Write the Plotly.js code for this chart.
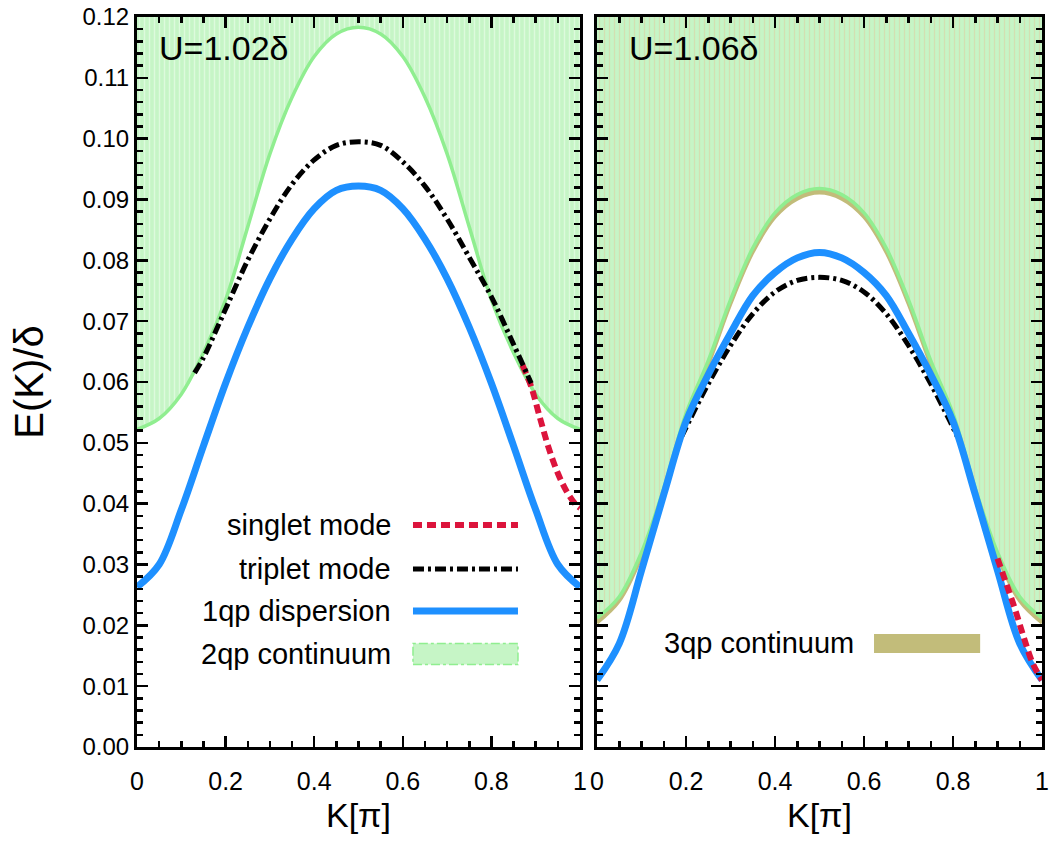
<!DOCTYPE html>
<html><head><meta charset="utf-8">
<script src="https://cdn.plot.ly/plotly-3.0.1.min.js"></script>
<style>html,body{margin:0;padding:0;background:#fff}#chart{width:1051px;height:846px}</style>
</head><body><div id="chart"></div>
<script>
// ---------- data ----------
const K_GRID = [0,0.05,0.1,0.15,0.2,0.25,0.3,0.35,0.4,0.45,0.5,0.55,0.6,0.65,0.7,0.75,0.8,0.85,0.9,0.95,1.0];

// Panel 1: U = 1.02 delta
const DISP_1QP_L = [0.0263,0.0300,0.0390,0.0495,0.0598,0.0690,0.0770,0.0835,0.0885,0.0915,0.0922,0.0915,0.0885,0.0835,0.0770,0.0690,0.0598,0.0495,0.0390,0.0300,0.0263];
const EDGE_2QP_L = [0.0522,0.0540,0.0580,0.0648,0.0735,0.0855,0.0975,0.1068,0.1135,0.1172,0.1183,0.1172,0.1135,0.1068,0.0975,0.0855,0.0735,0.0648,0.0580,0.0540,0.0522];
const TRIP_K_L = [0.13,0.15,0.2,0.25,0.3,0.35,0.4,0.45,0.5,0.55,0.6,0.65,0.7,0.75,0.8,0.85,0.89];
const TRIP_L   = [0.0615,0.0640,0.0720,0.0800,0.0868,0.0925,0.0965,0.0989,0.0995,0.0989,0.0962,0.0922,0.0868,0.0805,0.0740,0.0662,0.0598];
const SING_K_L = [0.87,0.89,0.91,0.93,0.95,0.97,0.99,1.0];
const SING_L   = [0.0628,0.0592,0.0540,0.0490,0.0450,0.0420,0.0399,0.0393];

// Panel 2: U = 1.06 delta
const DISP_1QP_R = [0.0110,0.0170,0.0290,0.0415,0.0535,0.0612,0.0680,0.0742,0.0780,0.0804,0.0813,0.0804,0.0780,0.0742,0.0680,0.0612,0.0535,0.0415,0.0290,0.0170,0.0110];
const EDGE_2QP_R = [0.0212,0.0247,0.0320,0.0425,0.0548,0.0635,0.0735,0.0820,0.0878,0.0908,0.0918,0.0908,0.0878,0.0820,0.0735,0.0635,0.0548,0.0425,0.0320,0.0247,0.0212];
const EDGE_3QP_R = [0.0204,0.0240,0.0313,0.0418,0.0541,0.0628,0.0728,0.0813,0.0871,0.0901,0.0911,0.0901,0.0871,0.0813,0.0728,0.0628,0.0541,0.0418,0.0313,0.0240,0.0204];
const TRIP_K_R = [0.19,0.21,0.25,0.3,0.35,0.4,0.45,0.5,0.55,0.6,0.65,0.7,0.75,0.79,0.81];
const TRIP_R   = [0.0510,0.0540,0.0597,0.0660,0.0712,0.0748,0.0767,0.0772,0.0767,0.0748,0.0712,0.0660,0.0597,0.0540,0.0510];
const SING_K_R = [0.90,0.92,0.94,0.96,0.98,1.0];
const SING_R   = [0.0310,0.0268,0.0225,0.0178,0.0136,0.0110];

// axis / labels
const Y_RANGE = [0, 0.12];
const X_TICKS = [0,0.2,0.4,0.6,0.8,1];
const X_TICKTEXT = ['0','0.2','0.4','0.6','0.8','1'];
const PANEL_LABELS = ['U=1.02δ','U=1.06δ'];
const LEGEND_L = ['singlet mode','triplet mode','1qp dispersion','2qp continuum'];
const LEGEND_R = ['3qp continuum'];

// ---------- styles ----------
const FONT = 'Liberation Sans, Arial, Helvetica, sans-serif';
const C_BLUE = '#1e90ff', C_RED = '#dc143c', C_BLACK = '#000000';
const C_GREEN_FILL = '#c6f5c6', C_GREEN_LINE = '#90ee90', C_TAN = '#c2bc7a';
const DASH_SING = '9px,5px', DASH_TRIP = '11px,4px,3px,4px';

function topOf(K){ return K.map(() => Y_RANGE[1]); }

function continuum(K, edge, xa, ya, fill, line, pattern){
  return [
    {x:K, y:topOf(K), xaxis:xa, yaxis:ya, mode:'lines', line:{width:0, color:fill}, hoverinfo:'skip', showlegend:false},
    {x:K, y:edge, xaxis:xa, yaxis:ya, mode:'lines', line:{width:3.5, color:line, shape:'spline'},
     fill:'tonexty', fillcolor:fill, fillpattern:pattern, showlegend:false}
  ];
}
function curve(K, v, xa, ya, color, width, dash){
  return {x:K, y:v, xaxis:xa, yaxis:ya, mode:'lines', line:{color:color, width:width, dash:dash, shape:'spline'}, showlegend:false};
}

const patL = {shape:'|', bgcolor:C_GREEN_FILL, fgcolor:'#ddfadd', size:5, solidity:0.3};
const patR = {shape:'|', bgcolor:C_GREEN_FILL, fgcolor:'#d3dfb2', size:5, solidity:0.25};

const traces = [
  ...continuum(K_GRID, EDGE_2QP_L, 'x', 'y', C_GREEN_FILL, C_GREEN_LINE, patL),
  curve(SING_K_L, SING_L, 'x', 'y', C_RED, 6, DASH_SING),
  curve(TRIP_K_L, TRIP_L, 'x', 'y', C_BLACK, 5, DASH_TRIP),
  curve(K_GRID, DISP_1QP_L, 'x', 'y', C_BLUE, 7, 'solid'),

  ...continuum(K_GRID, EDGE_3QP_R, 'x2', 'y2', C_TAN, C_TAN, undefined),
  ...continuum(K_GRID, EDGE_2QP_R, 'x2', 'y2', C_GREEN_FILL, C_GREEN_LINE, patR),
  curve(TRIP_K_R, TRIP_R, 'x2', 'y2', C_BLACK, 5, DASH_TRIP),
  curve(K_GRID, DISP_1QP_R, 'x2', 'y2', C_BLUE, 7, 'solid'),
  curve(SING_K_R, SING_R, 'x2', 'y2', C_RED, 6, DASH_SING)
];

const tickFont = {family:FONT, size:24, color:'#000'};
function xAxis(domain, anchor){
  return {domain:domain, anchor:anchor, range:[0,1], tickvals:X_TICKS, ticktext:X_TICKTEXT,
    ticks:'inside', ticklen:11, tickwidth:2.5, tickcolor:'#000',
    minor:{dtick:0.05, ticks:'inside', ticklen:6, tickwidth:2.5, tickcolor:'#000', showgrid:false},
    showline:true, linewidth:3, linecolor:'#000', mirror:'allticks', showgrid:false, zeroline:false,
    tickfont:{family:FONT, size:25, color:'#000'}, ticklabelstandoff:10,
    title:{text:'K[π]', font:{family:FONT, size:34, color:'#000'}, standoff:10}, automargin:false};
}
function yAxis(anchor, labels){
  return {domain:[0,1], anchor:anchor, range:Y_RANGE, dtick:0.01, tick0:0, tickformat:'.2f',
    ticks:'inside', ticklen:11, tickwidth:2.5, tickcolor:'#000',
    minor:{dtick:0.002, ticks:'inside', ticklen:6, tickwidth:2.5, tickcolor:'#000', showgrid:false},
    showline:true, linewidth:3, linecolor:'#000', mirror:'allticks', showgrid:false, zeroline:false,
    showticklabels:labels, tickfont:tickFont, ticklabelstandoff:0,
    title: labels ? {text:'E(K)/δ', font:{family:FONT, size:40, color:'#000'}, standoff:27} : {text:''}, automargin:false};
}

// legend rows (domain fractions), text right-aligned then sample
const rowsL = [0.304, 0.2438, 0.1863, 0.1274];
const annFont = {family:FONT, size:29, color:'#000'};
const annotations = [
  {xref:'x domain', yref:'y domain', x:0.045, y:0.958, xanchor:'left', yanchor:'middle', text:PANEL_LABELS[0], showarrow:false, font:{family:FONT, size:34, color:'#000'}},
  {xref:'x2 domain', yref:'y2 domain', x:0.068, y:0.958, xanchor:'left', yanchor:'middle', text:PANEL_LABELS[1], showarrow:false, font:{family:FONT, size:34, color:'#000'}},
  ...LEGEND_L.map((t,i) => ({xref:'x domain', yref:'y domain', x:0.578, y:rowsL[i], xanchor:'right', yanchor:'middle', text:t, showarrow:false, font:annFont})),
  {xref:'x2 domain', yref:'y2 domain', x:0.582, y:0.1425, xanchor:'right', yanchor:'middle', text:LEGEND_R[0], showarrow:false, font:annFont}
];
const sx0 = 0.623, sx1 = 0.860;
const shapes = [
  {type:'line', xref:'x domain', yref:'y domain', x0:sx0, x1:sx1, y0:rowsL[0], y1:rowsL[0], line:{color:C_RED, width:6, dash:DASH_SING}},
  {type:'line', xref:'x domain', yref:'y domain', x0:sx0, x1:sx1, y0:rowsL[1], y1:rowsL[1], line:{color:C_BLACK, width:5, dash:DASH_TRIP}},
  {type:'line', xref:'x domain', yref:'y domain', x0:sx0, x1:sx1, y0:rowsL[2], y1:rowsL[2], line:{color:C_BLUE, width:7}},
  {type:'rect', xref:'x domain', yref:'y domain', x0:sx0, x1:sx1, y0:rowsL[3]-0.0143, y1:rowsL[3]+0.0143, fillcolor:C_GREEN_FILL, line:{color:C_GREEN_LINE, width:1.5, dash:'dashdot'}},
  {type:'rect', xref:'x2 domain', yref:'y2 domain', x0:0.6225, x1:0.861, y0:0.1288, y1:0.1548, fillcolor:C_TAN, line:{width:0}}
];

const layout = {
  width:1051, height:846, paper_bgcolor:'#fff', plot_bgcolor:'#fff',
  margin:{l:137, r:9, t:17, b:99}, showlegend:false, font:{family:FONT, color:'#000'},
  xaxis:xAxis([0,0.4895],'y'), yaxis:yAxis('x', true),
  xaxis2:xAxis([0.5083,1],'y2'), yaxis2:yAxis('x2', false),
  annotations:annotations, shapes:shapes
};
Plotly.newPlot('chart', traces, layout, {displayModeBar:false, staticPlot:true});
</script></body></html>
